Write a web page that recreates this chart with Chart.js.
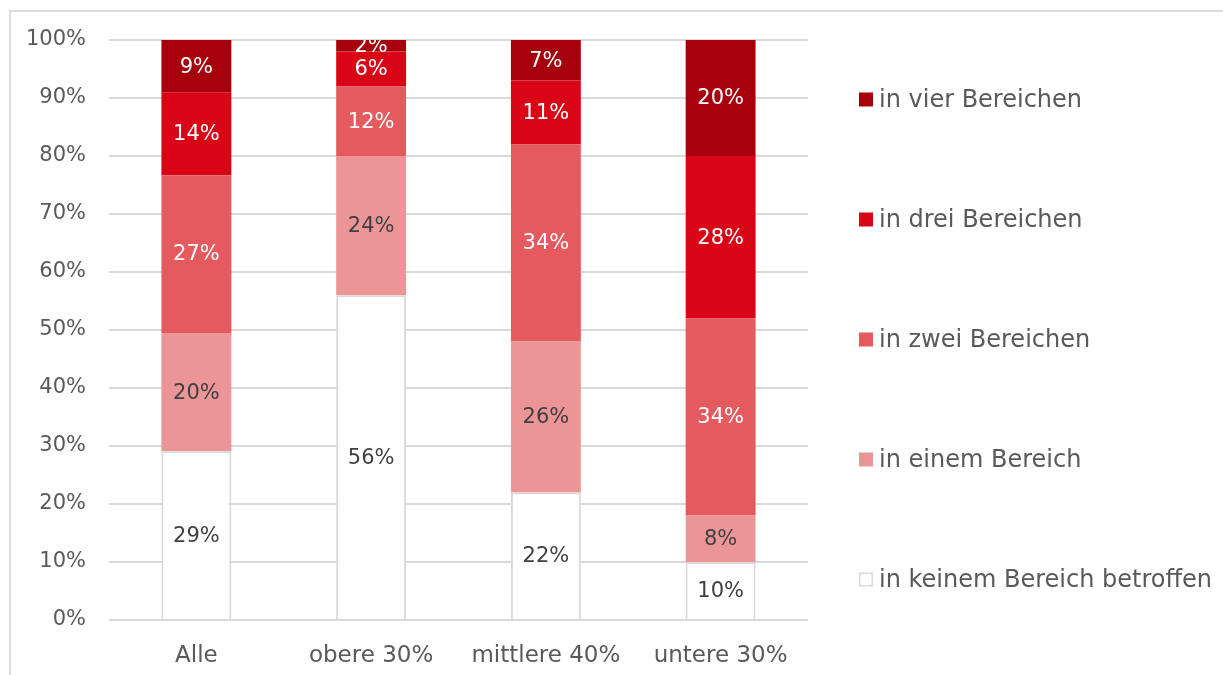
<!DOCTYPE html>
<html lang="de">
<head>
<meta charset="utf-8">
<title>Betroffenheit nach Einkommensgruppen</title>
<script src="https://cdn.jsdelivr.net/npm/chart.js@4/dist/chart.umd.min.js"></script>
<style>
  html, body { margin: 0; padding: 0; background: #fff; overflow: hidden; }
  #wrap { position: relative; width: 1223px; height: 675px; }
  #frame {
    position: absolute; left: 9px; top: 10px; right: -4px; bottom: -4px;
    border-top: 2px solid #dcdcdc; border-left: 2px solid #dcdcdc;
  }
  #chart { position: absolute; left: 0; top: 0; }
</style>
</head>
<body>
<div id="wrap">
  <div id="frame"></div>
  <canvas id="chart"></canvas>
</div>
<script>
const categories = ["Alle", "obere 30%", "mittlere 40%", "untere 30%"];

// Anteile in Prozent, von unten nach oben gestapelt
const keinBereich = [29.1, 56, 22, 10];
const einBereich = [20.4, 24, 26, 8];
const zweiBereiche = [27.2, 12, 34, 34];
const dreiBereiche = [14.3, 6, 11, 28];
const vierBereiche = [9.0, 2, 7, 20];

const seriesNames = [
    "in keinem Bereich betroffen",
    "in einem Bereich",
    "in zwei Bereichen",
    "in drei Bereichen",
    "in vier Bereichen"
];

const yTicks = [0, 10, 20, 30, 40, 50, 60, 70, 80, 90, 100];

const FONT = "'DejaVu Sans', sans-serif";
const GRID = "#d9d9d9";
const TEXT = "#595959";

const colors = ["#ffffff", "#eb9597", "#e55a5e", "#d90517", "#a6000c"];
const labelColors = ["#404040", "#404040", "#ffffff", "#ffffff", "#ffffff"];

// Werte mittig in die Segmente schreiben
const segmentLabels = {
    id: "segmentLabels",
    afterDatasetsDraw(chart) {
        const { ctx, chartArea } = chart;
        ctx.save();
        ctx.beginPath();
        ctx.rect(chartArea.left, chartArea.top, chartArea.right - chartArea.left, chartArea.bottom - chartArea.top);
        ctx.clip();
        ctx.font = "21px " + FONT;
        ctx.textAlign = "center";
        ctx.textBaseline = "middle";
        chart.data.datasets.forEach((ds, i) => {
            chart.getDatasetMeta(i).data.forEach((bar, j) => {
                const p = bar.getCenterPoint();
                ctx.fillStyle = labelColors[i];
                ctx.fillText(Math.round(ds.data[j]) + "%", p.x, p.y + 1);
            });
        });
        ctx.restore();
    }
};

// Legende rechts, oberste Kategorie zuerst, mit großem Zeilenabstand
const sideLegend = {
    id: "sideLegend",
    afterDraw(chart) {
        const { ctx } = chart;
        const items = chart.data.datasets.slice().reverse();
        const step = 120;
        const cy = chart.height / 2 + 2;
        const x = 859;
        ctx.save();
        ctx.font = "24px " + FONT;
        ctx.textBaseline = "middle";
        ctx.textAlign = "left";
        items.forEach((ds, k) => {
            const y = cy + (k - (items.length - 1) / 2) * step;
            ctx.fillStyle = ds.backgroundColor;
            ctx.fillRect(x, y - 7, 14, 14);
            if (ds.borderWidth) {
                ctx.strokeStyle = GRID;
                ctx.lineWidth = 1.5;
                ctx.strokeRect(x + 0.75, y - 6.25, 12.5, 12.5);
            }
            ctx.fillStyle = TEXT;
            ctx.fillText(ds.label, x + 20, y + 1);
        });
        ctx.restore();
    }
};

const seriesData = [keinBereich, einBereich, zweiBereiche, dreiBereiche, vierBereiche];

new Chart(document.getElementById("chart"), {
    type: "bar",
    data: {
        labels: categories,
        datasets: seriesData.map((values, i) => ({
            label: seriesNames[i],
            data: values,
            backgroundColor: colors[i],
            borderColor: GRID,
            borderWidth: i === 0 ? 2 : 0,
            borderSkipped: "bottom",
            categoryPercentage: 0.8,
            barPercentage: 0.5
        }))
    },
    options: {
        responsive: true,
        maintainAspectRatio: false,
        animation: false,
        layout: { padding: { top: 40, right: 415, left: 0, bottom: 0 } },
        plugins: {
            legend: { display: false },
            tooltip: { enabled: false }
        },
        scales: {
            x: {
                stacked: true,
                grid: { display: false },
                border: { display: false },
                ticks: { color: TEXT, font: { family: FONT, size: 23 }, padding: 14 },
                afterFit(scale) { scale.height = 55; }
            },
            y: {
                stacked: true,
                min: 0,
                max: 100,
                afterBuildTicks(scale) { scale.ticks = yTicks.map(v => ({ value: v })); },
                grid: { color: GRID, lineWidth: 2, drawTicks: false },
                border: { display: false },
                ticks: {
                    color: TEXT,
                    font: { family: FONT, size: 21 },
                    padding: 23,
                    callback: v => v + "%"
                },
                afterFit(scale) { scale.width = 109; }
            }
        }
    },
    plugins: [segmentLabels, sideLegend]
});
</script>
</body>
</html>
